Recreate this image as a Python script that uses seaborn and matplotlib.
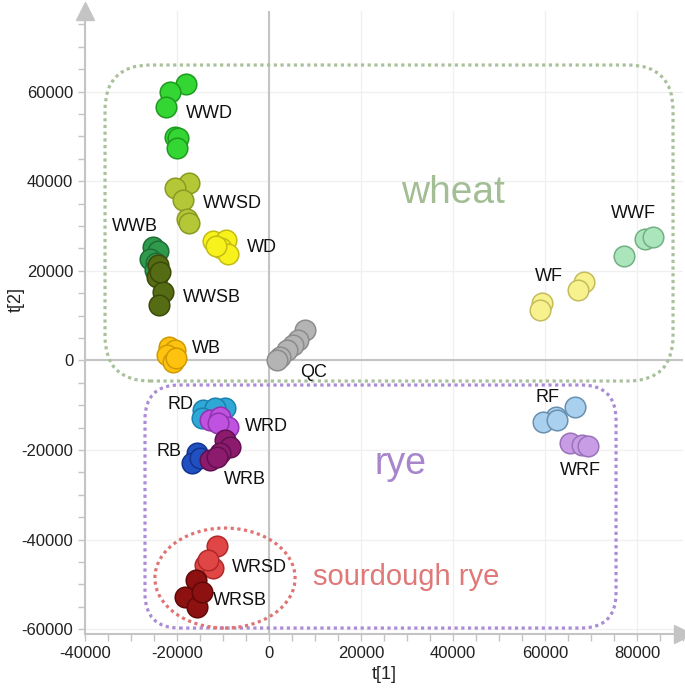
import numpy as np
import pandas as pd
import matplotlib
matplotlib.use("Agg")
import matplotlib.pyplot as plt
from matplotlib.patches import FancyBboxPatch, Ellipse
from matplotlib.ticker import MultipleLocator
import seaborn as sns

# score plot t[1] vs t[2]

groups = ["WWD", "WWSD", "WD", "WWB", "WWSB", "WB", "QC", "RD", "WRD",
          "RB", "WRB", "WRSD", "WRSB", "WF", "WWF", "RF", "WRF"]

t1 = {
    "WWD":  [-18040, -21520, -22390, -20440, -19780, -20000],
    "WWSD": [-17320, -20370, -18630, -17760, -17390],
    "WD":   [-12170, -9350, -10440, -8910, -11520],
    "WWB":  [-25220, -24130, -25870, -24570, -24780],
    "WWSB": [-24130, -24350, -23040, -23910, -23690],
    "WB":   [-21740, -20430, -22170, -20870, -20220],
    "QC":   [7830, 6300, 5220, 3910, 2390, 1740],
    "RD":   [-14350, -9570, -11740, -14570],
    "WRD":  [-12830, -10650, -8910, -11090],
    "RB":   [-15650, -16740, -15000],
    "WRB":  [-9570, -8480, -10650, -12830, -11300],
    "WRSD": [-11300, -13910, -12170, -13260],
    "WRSB": [-15870, -18260, -15650, -14570],
    "WF":   [68480, 67180, 59350, 58920],
    "WWF":  [77180, 81740, 83480],
    "RF":   [66520, 62390, 59570, 62610],
    "WRF":  [65440, 68050, 69350],
}

t2 = {
    "WWD":  [61740, 59960, 56610, 49910, 49690, 47450],
    "WWSD": [39530, 38550, 35800, 31630, 30730],
    "WD":   [26690, 26910, 25130, 23790, 25570],
    "WWB":  [25310, 24420, 22640, 21750, 20180],
    "WWSB": [21300, 18620, 15270, 12370, 19730],
    "WB":   [2990, 2320, 1210, -360, 540],
    "QC":   [6790, 4550, 3440, 2320, 760, 90],
    "RD":   [-11070, -10620, -10620, -12860],
    "WRD":  [-13300, -12630, -14870, -13970],
    "RB":   [-20670, -22900, -21790],
    "WRB":  [-17770, -19330, -20670, -22240, -21570],
    "WRSD": [-41430, -45670, -46340, -44550],
    "WRSB": [-49020, -52810, -55050, -51700],
    "WF":   [17500, 15710, 12810, 11250],
    "WWF":  [23310, 27100, 27550],
    "RF":   [-10400, -12630, -13750, -13300],
    "WRF":  [-18440, -18880, -19100],
}

fill_colors = {
    "WWD": "#33d633", "WWSD": "#b3c737", "WD": "#f7f21c", "WWB": "#2f9a4c",
    "WWSB": "#566c14", "WB": "#ffc20f", "QC": "#b4b4b4", "RD": "#2fa8d6",
    "WRD": "#c052e0", "RB": "#2151c0", "WRB": "#8d1b6d", "WRSD": "#e04646",
    "WRSB": "#8e1111", "WF": "#f7f28e", "WWF": "#aae5bb", "RF": "#a9d0ee",
    "WRF": "#c99de6",
}
edge_colors = {
    "WWD": "#1f9a1f", "WWSD": "#8a9a22", "WD": "#c4bc10", "WWB": "#1f6e35",
    "WWSB": "#3a4a08", "WB": "#cf9a00", "QC": "#8c8c8c", "RD": "#1a80b0",
    "WRD": "#9032b0", "RB": "#123290", "WRB": "#601050", "WRSD": "#b02828",
    "WRSB": "#600808", "WF": "#c4bc5c", "WWF": "#72b084", "RF": "#6a90b0",
    "WRF": "#9a72ba",
}

# label anchors (left edge, vertical centre)
label_x = [-18040, -14350, -4780, -34130, -18700, -16740, 6740, -21960, -5220,
           -24350, -9780, -8040, -12170, 57830, 74350, 57830, 63260]
label_y = [55000, 35130, 25090, 29780, 14150, 2770, -2590, -9950, -14860,
           -20440, -26690, -46110, -53480, 18840, 32900, -8170, -24460]

rows = []
for g in groups:
    for a, b in zip(t1[g], t2[g]):
        rows.append((g, a, b))
scores = pd.DataFrame(rows, columns=["group", "t1", "t2"])

sns.set_style("white")
plt.rcParams["font.family"] = ["Liberation Sans", "DejaVu Sans"]
plt.rcParams["axes.unicode_minus"] = False

fig = plt.figure(figsize=(6.85, 6.88), dpi=100)
ax = fig.add_axes([0.1241, 0.0789, 0.873, 0.9052])

# group outlines
ax.add_patch(FancyBboxPatch((-35650, -4600), 87830 + 35650, 65930 + 4600,
                            boxstyle="round,pad=0,rounding_size=9800",
                            mutation_aspect=1.03, fill=False,
                            edgecolor="#a9c19b", lw=2.3, ls=(0, (1, 1.1)),
                            zorder=2))
ax.add_patch(FancyBboxPatch((-26960, -59730), 75440 + 26960, 59730 - 5490,
                            boxstyle="round,pad=0,rounding_size=7500",
                            mutation_aspect=1.03, fill=False,
                            edgecolor="#ab8bd6", lw=2.3, ls=(0, (1, 1.1)),
                            zorder=2))
ax.add_patch(Ellipse((-9570, -48570), 30480, 22320, fill=False,
                     edgecolor="#e07474", lw=2.3, ls=(0, (1, 1.1)), zorder=2))

for g in groups:
    sub = scores[scores.group == g]
    sns.scatterplot(data=sub, x="t1", y="t2", ax=ax, s=220,
                    color=fill_colors[g], edgecolor=edge_colors[g],
                    linewidth=1.1, zorder=3, legend=False)

for g, lx, ly in zip(groups, label_x, label_y):
    ax.text(lx, ly, g, fontsize=13, ha="left", va="center", color="#111111",
            zorder=4)

ax.text(40060, 35120, "wheat", fontsize=28, color="#a3be94", ha="center",
        va="baseline")
ax.text(28520, -25280, "rye", fontsize=27, color="#a886cc", ha="center",
        va="baseline")
ax.text(29720, -50110, "sourdough rye", fontsize=21, color="#e07878",
        ha="center", va="baseline")

# axes look
ax.set_xlim(-40000, 90000)
ax.set_ylim(-61000, 78000)
ax.xaxis.set_minor_locator(MultipleLocator(5000))
ax.yaxis.set_minor_locator(MultipleLocator(5000))
ax.set_xticks(np.arange(-40000, 80001, 20000))
ax.set_yticks(np.arange(-60000, 60001, 20000))
ax.grid(True, which="major", color="#f0f0f0", lw=1)
ax.set_axisbelow(True)
ax.axvline(0, color="#c4c4c4", lw=1.5, zorder=1)
ax.axhline(0, color="#c4c4c4", lw=1.5, zorder=1)

for side in ["top", "right"]:
    ax.spines[side].set_visible(False)
for side in ["left", "bottom"]:
    ax.spines[side].set_color("#c4c4c4")
    ax.spines[side].set_linewidth(1.5)

ax.tick_params(which="both", direction="out", color="#c4c4c4", length=5,
               width=1, labelsize=12, labelcolor="#222222",
               left=True, bottom=True)
ax.plot(1, 0, marker=">", ms=13, color="#c4c4c4", transform=ax.transAxes,
        clip_on=False)
ax.plot(0, 1, marker="^", ms=13, color="#c4c4c4", transform=ax.transAxes,
        clip_on=False)

ax.set_xlabel("t[1]", fontsize=13, color="#222222", labelpad=4)
ax.set_ylabel("t[2]", fontsize=13, color="#222222")
ax.yaxis.set_label_coords(-0.1, 0.536)

fig.savefig("out.png", dpi=100)
